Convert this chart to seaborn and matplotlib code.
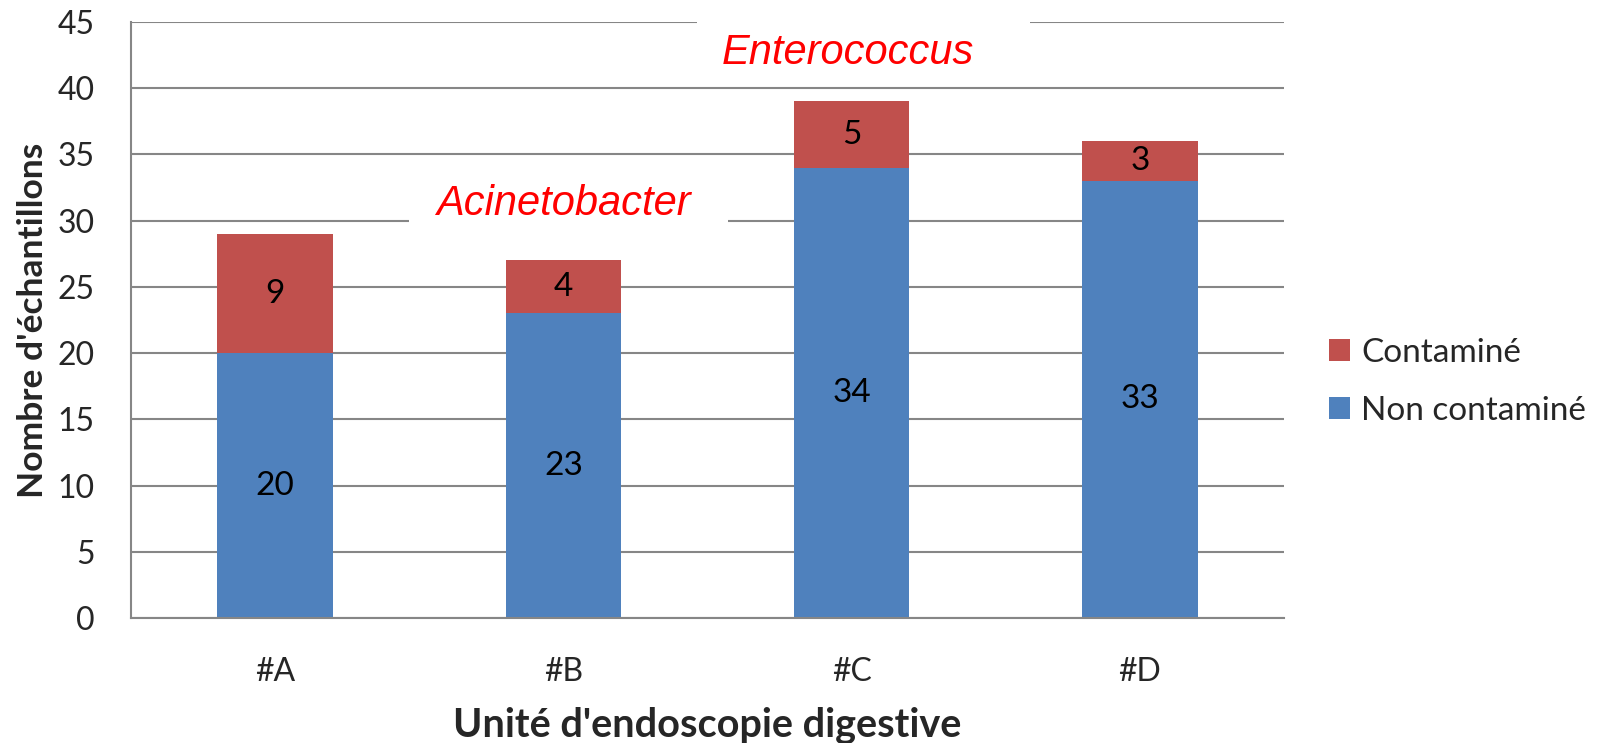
import matplotlib
matplotlib.use("Agg")
import matplotlib.pyplot as plt
from matplotlib.patches import Rectangle
import seaborn as sns
import pandas as pd

# Données
unites = ["#A", "#B", "#C", "#D"]
non_contamine = [20, 23, 34, 33]
contamine = [9, 4, 5, 3]
totaux = [n + c for n, c in zip(non_contamine, contamine)]

bleu = "#4F81BD"
rouge = "#C0504D"
gris = "#868686"

sns.set_style("white")
plt.rcParams['font.family'] = ['Lato', 'DejaVu Sans']

df = pd.DataFrame({"unite": unites, "non": non_contamine, "cont": contamine, "total": totaux})

fig = plt.figure(figsize=(16.08, 7.43), dpi=100)
ax = fig.add_axes([131 / 1608, 1 - 618 / 743, 1153 / 1608, 596 / 743])

# Barres empilées : total (rouge) derrière, non contaminé (bleu) devant
sns.barplot(data=df, x="unite", y="total", color=rouge, width=0.4, saturation=1,
            linewidth=0, label="Contaminé", ax=ax)
sns.barplot(data=df, x="unite", y="non", color=bleu, width=0.4, saturation=1,
            linewidth=0, label="Non contaminé", ax=ax)

# Étiquettes des valeurs au centre de chaque segment
for i, (n, c) in enumerate(zip(non_contamine, contamine)):
    ax.text(i, n / 2, str(n), ha="center", va="center", fontsize=24, color="black")
    ax.text(i, n + c / 2, str(c), ha="center", va="center", fontsize=24, color="black")

ax.set_ylim(0, 45)
ax.set_xlim(-0.5, 3.5)
ax.set_yticks(range(0, 46, 5))
ax.yaxis.grid(True, color=gris, linewidth=1.5)
ax.set_axisbelow(True)

# Graduations entre les catégories
ax.set_xticks([-0.5, 0.5, 1.5, 2.5, 3.5], minor=True)
ax.tick_params(axis="x", which="major", length=0, labelsize=23, pad=28)
ax.tick_params(axis="x", which="minor", length=12, width=1.5, color=gris, direction="out")
ax.tick_params(axis="y", length=8, width=1.5, color=gris, direction="out", labelsize=23, pad=18)

for s in ["top", "right"]:
    ax.spines[s].set_visible(False)
for s in ["left", "bottom"]:
    ax.spines[s].set_color(gris)
    ax.spines[s].set_linewidth(1.5)

ax.set_xlabel("Unité d'endoscopie digestive", fontsize=28.5, fontweight="bold", labelpad=14)
ax.set_ylabel("Nombre d'échantillons", fontsize=25.5, fontweight="bold", labelpad=6)

# Annotations des germes, sur un fond blanc qui masque le quadrillage
ax.add_patch(Rectangle((1.463, 41.0), 1.155, 4.6, facecolor="white", edgecolor="none",
                       zorder=2.5, clip_on=False))
ax.add_patch(Rectangle((0.464, 29.3), 1.107, 4.3, facecolor="white", edgecolor="none",
                       zorder=2.5, clip_on=False))
ax.text(1.987, 41.8, "Enterococcus", color="red", fontsize=30, style="italic",
        family=['Liberation Sans', 'DejaVu Sans'], ha="center", va="baseline", zorder=3)
ax.text(0.999, 30.45, "Acinetobacter", color="red", fontsize=30, style="italic",
        family=['Liberation Sans', 'DejaVu Sans'], ha="center", va="baseline", zorder=3)

ax.legend(loc="center left", bbox_to_anchor=(1329 / 1608, 1 - 382 / 743),
          bbox_transform=fig.transFigure, frameon=False, fontsize=24,
          handlelength=0.64, handleheight=0.64, handletextpad=0.33,
          labelspacing=0.85, borderpad=0, borderaxespad=0)

plt.savefig("out.png", dpi=100)
plt.close()
